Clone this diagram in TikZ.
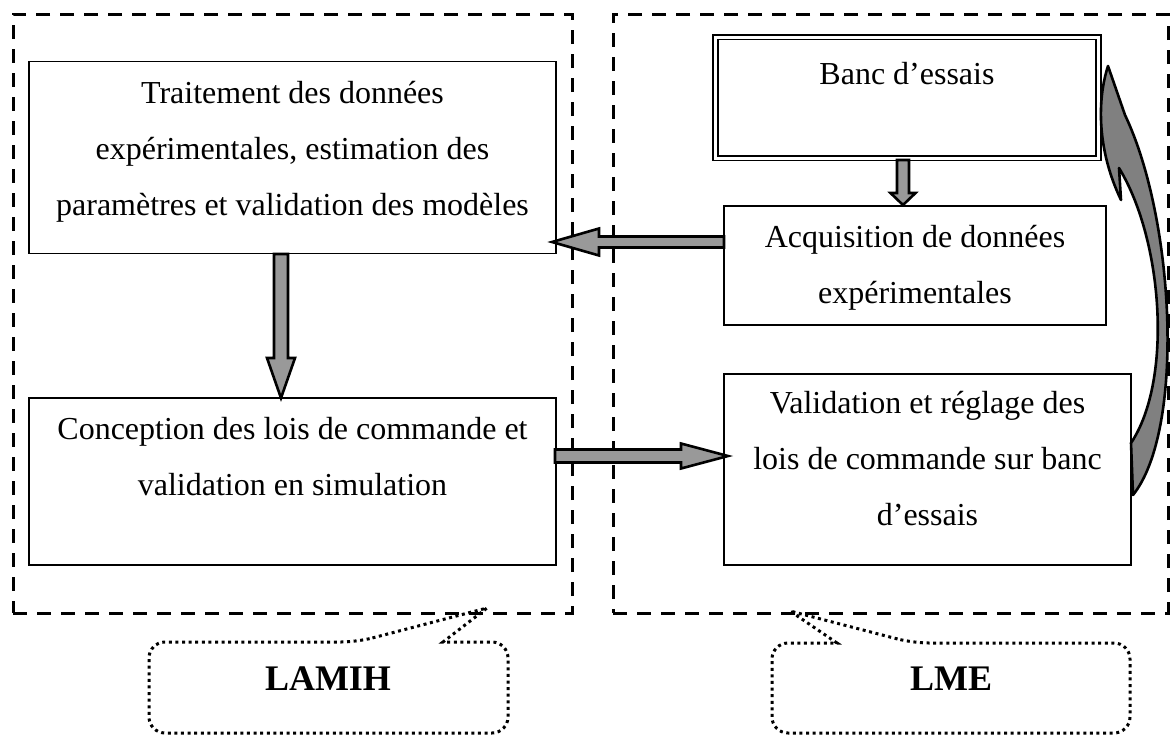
\documentclass[tikz,border=0pt]{standalone}
\usepackage{fontspec}
\setmainfont{Liberation Serif}
\usetikzlibrary{calc}
\definecolor{arrowgray}{HTML}{999999}
\definecolor{curvegray}{HTML}{808080}
\newcommand\blockarrow[6]{%
  \coordinate (bh) at ($(#3)!#6!(#2)$);
  \draw[#1] ($(#2)!#4!90:(#3)$) -- ($(bh)!#4!90:(#3)$) -- ($(bh)!#5!90:(#3)$) -- (#3)
    -- ($(bh)!#5!-90:(#3)$) -- ($(bh)!#4!-90:(#3)$) -- ($(#2)!#4!-90:(#3)$) -- cycle;}
\begin{document}
\begin{tikzpicture}[x=1pt,y=-1pt,
  box/.style={draw, line width=1.4pt, inner sep=0pt},
  dbox/.style={draw, line width=1.6pt, double, double distance=3pt, inner sep=0pt},
  container/.style={draw, line width=3pt, dash pattern=on 14pt off 10pt, inner sep=0pt},
  txt/.style={font=\fontsize{32}{56}\selectfont, align=center, anchor=base, inner sep=0pt},
  lab/.style={font=\fontsize{36}{40}\selectfont\bfseries, anchor=base, inner sep=0pt},
  callout/.style={draw, line width=3pt, dash pattern=on 3pt off 3.6pt},
  barrow/.style={draw, line width=2.6pt, fill=arrowgray, line join=miter},
  carrow/.style={draw, line width=2.6pt, fill=curvegray, line join=round}]
\useasboundingbox (0,0) rectangle (1170,736);
\fill[white] (0,0) rectangle (1170,736);

% containers
\node[container, minimum width=559pt, minimum height=599pt] (left) at (292.5,313.5) {};
\node[container, minimum width=555pt, minimum height=599pt] (right) at (890.5,313.5) {};

% boxes
\node[box, minimum width=527pt, minimum height=192pt] (boxA) at (292.5,157.5) {};
\node[box, minimum width=527pt, minimum height=167pt] (boxB) at (292.5,481.5) {};
\node[dbox, minimum width=383pt, minimum height=121pt] (banc) at (907,97.5) {};
\node[box, minimum width=382pt, minimum height=119pt] (acq) at (915,265.5) {};
\node[box, minimum width=407pt, minimum height=191pt] (val) at (927.5,469.5) {};

% texts (base anchor = baseline of the last line)
\node[txt] (tA) at (292.5,215) {Traitement des données\\expérimentales, estimation des\\paramètres et validation des modèles};
\node[txt] (tB) at (292.5,495) {Conception des lois de commande et\\validation en simulation};
\node[txt] (tbanc) at (907,84) {Banc d’essais};
\node[txt] (tacq) at (915,303) {Acquisition de données\\expérimentales};
\node[txt] (tval) at (927.5,525) {Validation et réglage des\\lois de commande sur banc\\d’essais};

% straight block arrows
\coordinate (d1s) at (281,254);
\coordinate (d1e) at (281,398);
\blockarrow{barrow}{d1s}{d1e}{7pt}{14pt}{40pt}
\coordinate (d2s) at (903,160);
\coordinate (d2e) at (903,205);
\blockarrow{barrow}{d2s}{d2e}{6pt}{12.5pt}{12pt}
\coordinate (l1s) at (724,242);
\coordinate (l1e) at (552,242);
\blockarrow{barrow}{l1s}{l1e}{5.5pt}{13.5pt}{47pt}
\coordinate (r1s) at (555,456);
\coordinate (r1e) at (728,456);
\blockarrow{barrow}{r1s}{r1e}{6.5pt}{12.5pt}{47pt}

% curved arrow from val back to banc
\draw[carrow] (1108,66) .. controls (1097,100) and (1097,150) .. (1121,200)
  -- (1119,168) .. controls (1163,240) and (1173,380) .. (1131,443)
  -- (1133,495) .. controls (1185,430) and (1175,220) .. (1125,115) -- cycle;

% callouts
\draw[callout] (357,642) -- (487,608) -- (443,642) [rounded corners=16pt] -- (508,642) -- (508,733) -- (149,733) -- (149,642) -- cycle;
\node[lab] (lamih) at (328,690) {LAMIH};
\draw[callout] (913,643) -- (790,611) -- (837,643) [rounded corners=16pt] -- (772,643) -- (772,733) -- (1130,733) -- (1130,643) -- cycle;
\node[lab] (lme) at (951,690) {LME};
\end{tikzpicture}
\end{document}
